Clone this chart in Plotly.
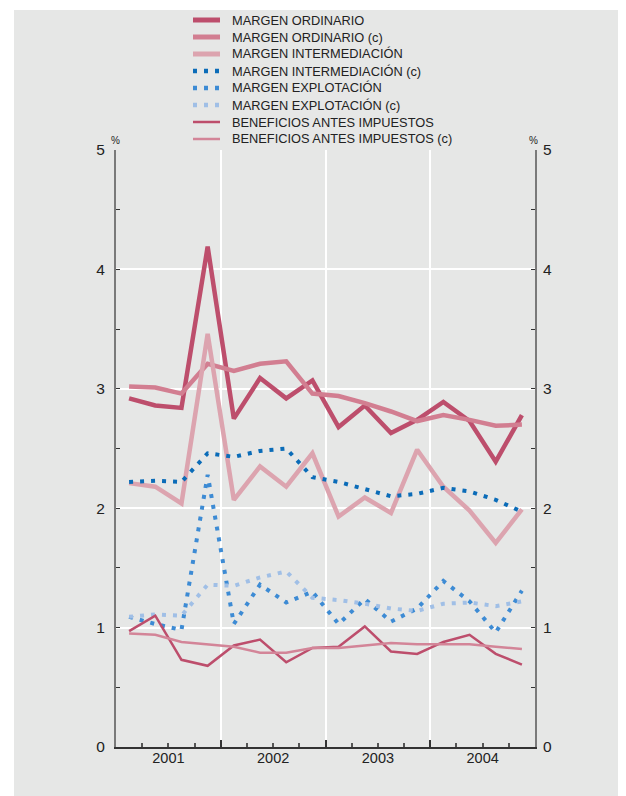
import plotly.graph_objects as go

# trimestres 2001-2004
years = [2001, 2002, 2003, 2004]
quarters = [1, 2, 3, 4]
year_labels = ["2001", "2002", "2003", "2004"]

margen_ordinario = [2.92, 2.86, 2.84, 4.19, 2.75, 3.09, 2.92, 3.07, 2.68, 2.86, 2.63, 2.74, 2.89, 2.73, 2.39, 2.78]
margen_ordinario_c = [3.02, 3.01, 2.96, 3.21, 3.15, 3.21, 3.23, 2.96, 2.94, 2.88, 2.81, 2.73, 2.78, 2.74, 2.69, 2.70]
margen_intermediacion = [2.21, 2.18, 2.04, 3.46, 2.07, 2.35, 2.18, 2.46, 1.93, 2.09, 1.96, 2.49, 2.18, 1.98, 1.71, 1.99]
margen_intermediacion_c = [2.22, 2.23, 2.22, 2.46, 2.43, 2.48, 2.50, 2.26, 2.22, 2.16, 2.10, 2.12, 2.17, 2.14, 2.07, 1.97]
margen_explotacion = [1.09, 1.03, 0.98, 2.28, 1.03, 1.36, 1.21, 1.30, 1.03, 1.24, 1.05, 1.16, 1.39, 1.22, 0.96, 1.31]
margen_explotacion_c = [1.09, 1.11, 1.10, 1.36, 1.35, 1.42, 1.47, 1.25, 1.23, 1.20, 1.16, 1.14, 1.20, 1.21, 1.18, 1.22]
beneficios = [0.97, 1.10, 0.73, 0.68, 0.85, 0.90, 0.71, 0.83, 0.84, 1.01, 0.80, 0.78, 0.88, 0.94, 0.78, 0.69]
beneficios_c = [0.95, 0.94, 0.88, 0.86, 0.84, 0.79, 0.79, 0.83, 0.83, 0.85, 0.87, 0.86, 0.86, 0.86, 0.84, 0.82]

# posicion de cada trimestre en el eje (centro del trimestre)
x = [y + (q - 0.5) / 4 for y in years for q in quarters]

DOT = "4px,7px"
series = [
    ("MARGEN ORDINARIO", margen_ordinario, "#bd4e6c", 4.5, "solid"),
    ("MARGEN ORDINARIO (c)", margen_ordinario_c, "#d27e91", 4.5, "solid"),
    ("MARGEN INTERMEDIACIÓN", margen_intermediacion, "#dca4af", 4.5, "solid"),
    ("MARGEN INTERMEDIACIÓN (c)", margen_intermediacion_c, "#0b6cb8", 4, DOT),
    ("MARGEN EXPLOTACIÓN", margen_explotacion, "#3d8bd4", 4, DOT),
    ("MARGEN EXPLOTACIÓN (c)", margen_explotacion_c, "#a0bfe6", 4, DOT),
    ("BENEFICIOS ANTES IMPUESTOS", beneficios, "#bd4e6c", 2.5, "solid"),
    ("BENEFICIOS ANTES IMPUESTOS (c)", beneficios_c, "#d38598", 2.5, "solid"),
]

fig = go.Figure()
for name, vals, color, w, dash in series:
    fig.add_trace(go.Scatter(x=x, y=vals, name=name, mode="lines", showlegend=False,
                             line=dict(color=color, width=w, dash=dash)))

# trazas invisibles para activar los ejes secundarios
fig.add_trace(go.Scatter(x=[2001, 2005], y=[0, 5], xaxis="x2", yaxis="y2",
                         mode="lines", line=dict(width=0), showlegend=False, hoverinfo="skip"))

bg = "#e6e7e6"
font = "Liberation Sans, Arial, sans-serif"

# la pagina tiene 8px de margen: el grafico ocupa 618x788
W, H = 618, 788
L, R, T, B = 108, 91, 142, 49
pw, ph = W - L - R, H - T - B

def px(fx):
    return (fx - L) / pw

def py(fy):
    return (H - B - fy) / ph

shapes = [
    dict(type="rect", xref="paper", yref="paper", x0=-0.4, x1=px(6), y0=-0.2, y1=1.4,
         fillcolor="#ffffff", line=dict(width=0), layer="below"),
    dict(type="rect", xref="paper", yref="paper", x0=-0.4, x1=1.4, y0=py(2), y1=1.4,
         fillcolor="#ffffff", line=dict(width=0), layer="below"),
]
annotations = [
    dict(text="%", xref="paper", yref="paper", x=-0.002, y=1.004, xanchor="center", yanchor="bottom",
         showarrow=False, font=dict(size=10, color="#222222")),
    dict(text="%", xref="paper", yref="paper", x=0.997, y=1.004, xanchor="center", yanchor="bottom",
         showarrow=False, font=dict(size=10, color="#222222")),
]

# leyenda
for k, (name, vals, color, w, dash) in enumerate(series):
    yy = py(12 + 17 * k)
    shapes.append(dict(type="line", xref="paper", yref="paper", x0=px(185), x1=px(212), y0=yy, y1=yy,
                       line=dict(color=color, width=w + 0.5 if w > 3 else w, dash=dash)))
    annotations.append(dict(text=name, xref="paper", yref="paper", x=px(222), y=yy,
                            xanchor="left", yanchor="middle", showarrow=False,
                            font=dict(size=12.8, color="#222222")))

fig.update_layout(
    width=W, height=H,
    margin=dict(l=L, r=R, t=T, b=B),
    paper_bgcolor=bg, plot_bgcolor=bg,
    font=dict(family=font, color="#222222"),
    showlegend=False,
    xaxis=dict(range=[2001, 2005], tickvals=[2001, 2002, 2003, 2004, 2005],
               showticklabels=False, ticks="inside", ticklen=7, tickwidth=2, tickcolor="#333333",
               showgrid=True, gridcolor="#ffffff", gridwidth=2,
               showline=True, linecolor="#333333", linewidth=2, zeroline=False,
               minor=dict(tick0=2001, dtick=0.25, ticks="inside", ticklen=4, tickcolor="#555555", showgrid=False)),
    xaxis2=dict(range=[2001, 2005], overlaying="x", anchor="y", side="bottom",
                tickvals=[y + 0.5 for y in years], ticktext=year_labels, ticks="",
                tickfont=dict(size=14.5, color="#222222"), showgrid=False, zeroline=False, showline=False),
    yaxis=dict(range=[0, 5], tickvals=[0, 1, 2, 3, 4, 5], ticks="inside", ticklen=4, tickcolor="#333333",
               tickfont=dict(size=15.5, color="#222222"), ticklabelstandoff=6,
               showgrid=True, gridcolor="#ffffff", gridwidth=2, zeroline=False,
               showline=True, linecolor="#7a7a7a", linewidth=2,
               minor=dict(dtick=0.5, ticks="inside", ticklen=4, tickcolor="#333333", showgrid=False)),
    yaxis2=dict(range=[0, 5], overlaying="y", side="right", anchor="x",
                tickvals=[0, 1, 2, 3, 4, 5], ticks="inside", ticklen=4, tickcolor="#333333",
                tickfont=dict(size=15.5, color="#222222"), ticklabelstandoff=3,
                showgrid=False, zeroline=False,
                showline=True, linecolor="#7a7a7a", linewidth=2,
                minor=dict(dtick=0.5, ticks="inside", ticklen=4, tickcolor="#333333")),
    shapes=shapes,
    annotations=annotations,
)

fig.write_html("out.html")
